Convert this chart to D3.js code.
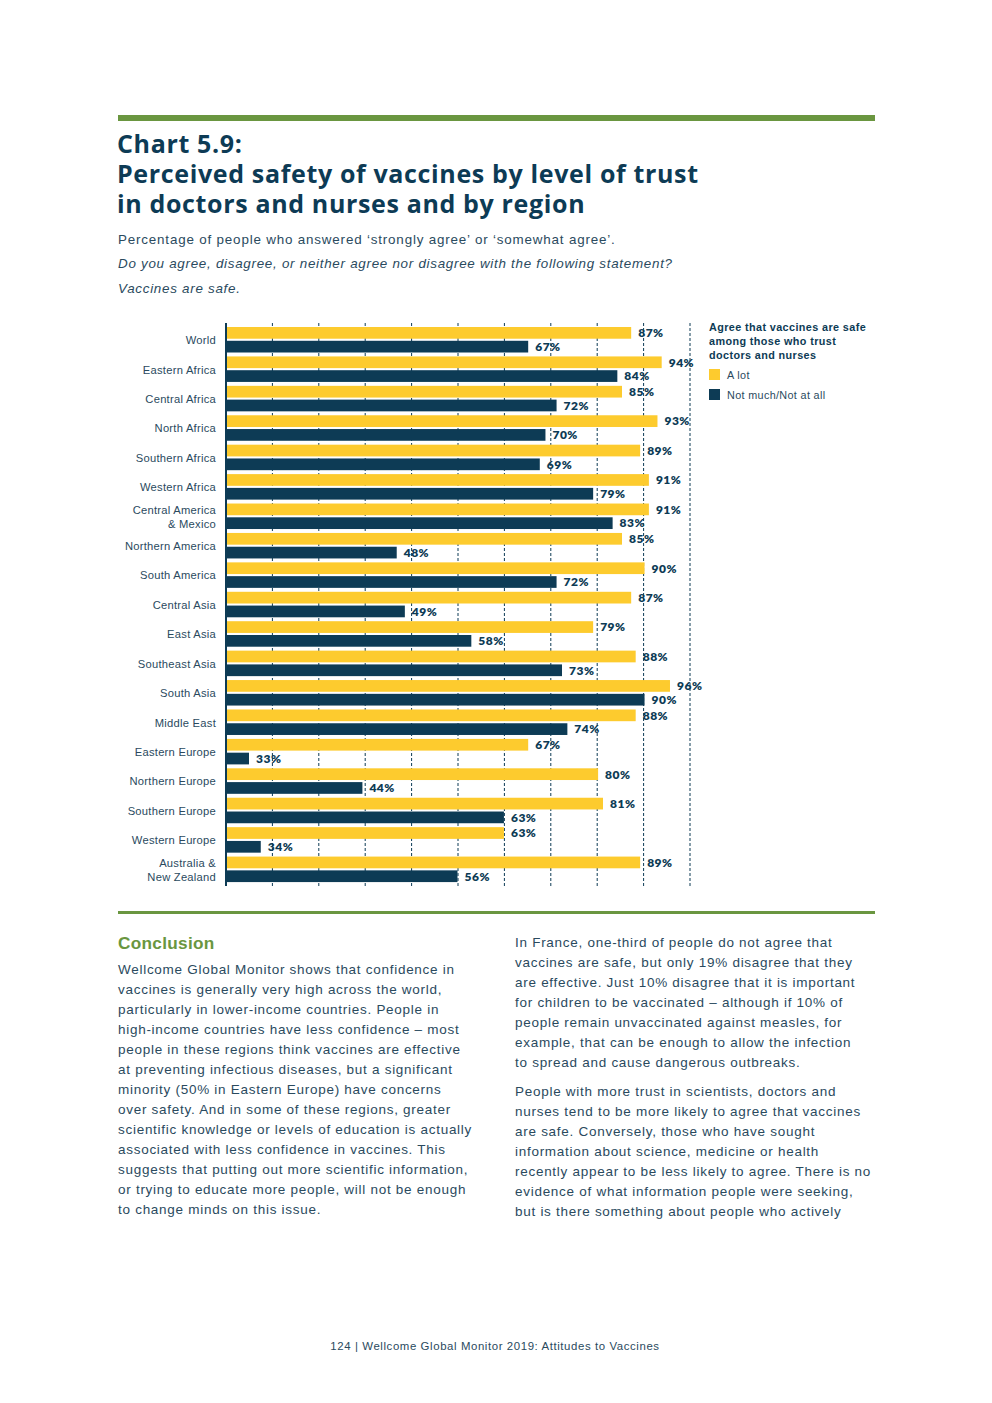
<!DOCTYPE html>
<html>
<head>
<meta charset="utf-8">
<script src="https://cdn.jsdelivr.net/npm/d3@7"></script>
<style>
  body { margin: 0; background: #fff; }
  text { font-family: "Liberation Sans", Arial, sans-serif; }
</style>
</head>
<body>
<div id="chart"></div>
<script>
const width = 992, height = 1403;

// data
const regions = ["World", "Eastern Africa", "Central Africa", "North Africa", "Southern Africa",
  "Western Africa", "Central America\n& Mexico", "Northern America", "South America", "Central Asia",
  "East Asia", "Southeast Asia", "South Asia", "Middle East", "Eastern Europe", "Northern Europe",
  "Southern Europe", "Western Europe", "Australia &\nNew Zealand"];
const aLot = [87, 94, 85, 93, 89, 91, 91, 85, 90, 87, 79, 88, 96, 88, 67, 80, 81, 63, 89];
const notMuch = [67, 84, 72, 70, 69, 79, 83, 48, 72, 49, 58, 73, 90, 74, 33, 44, 63, 34, 56];
const seriesNames = ["A lot", "Not much/Not at all"];
const gridTicks = [10, 20, 30, 40, 50, 60, 70, 80, 90, 100];

const titleLines = ["Chart 5.9:", "Perceived safety of vaccines by level of trust", "in doctors and nurses and by region"];
const legendTitle = ["Agree that vaccines are safe", "among those who trust", "doctors and nurses"];

const leftCol = [
  "Wellcome Global Monitor shows that confidence in",
  "vaccines is generally very high across the world,",
  "particularly in lower-income countries. People in",
  "high-income countries have less confidence \u2013 most",
  "people in these regions think vaccines are effective",
  "at preventing infectious diseases, but a significant",
  "minority (50% in Eastern Europe) have concerns",
  "over safety. And in some of these regions, greater",
  "scientific knowledge or levels of education is actually",
  "associated with less confidence in vaccines. This",
  "suggests that putting out more scientific information,",
  "or trying to educate more people, will not be enough",
  "to change minds on this issue."];
const rightCol1 = [
  "In France, one-third of people do not agree that",
  "vaccines are safe, but only 19% disagree that they",
  "are effective. Just 10% disagree that it is important",
  "for children to be vaccinated \u2013 although if 10% of",
  "people remain unvaccinated against measles, for",
  "example, that can be enough to allow the infection",
  "to spread and cause dangerous outbreaks."];
const rightCol2 = [
  "People with more trust in scientists, doctors and",
  "nurses tend to be more likely to agree that vaccines",
  "are safe. Conversely, those who have sought",
  "information about science, medicine or health",
  "recently appear to be less likely to agree. There is no",
  "evidence of what information people were seeking,",
  "but is there something about people who actively"];

const navy = "#0d3b55", yellow = "#fdcb2e", green = "#6a9640", textCol = "#2a4a5e";

const svg = d3.select("#chart")
  .append("svg")
  .attr("width", width)
  .attr("height", height)
  .attr("viewBox", [0, 0, width, height]);

// top rule + title
svg.append("rect").attr("x", 118).attr("y", 115).attr("width", 757).attr("height", 6).attr("fill", green);

const title = svg.append("g").selectAll("text")
  .data(titleLines)
  .join("text")
  .attr("x", 117)
  .attr("y", (d, i) => 153 + i * 30)
  .attr("fill", navy)
  .style("font-family", "'Open Sans', sans-serif")
  .style("font-weight", 700)
  .style("font-size", "25px")
  .text(d => d);

// the original title face is wider: fit line 2 to ~581px
const line2 = title.filter((d, i) => i === 1).node();
const ls = (581 - line2.getComputedTextLength()) / (titleLines[1].length - 1);
title.style("letter-spacing", ls + "px");

const sub = [
  { t: "Percentage of people who answered \u2018strongly agree\u2019 or \u2018somewhat agree\u2019.", y: 244, it: false },
  { t: "Do you agree, disagree, or neither agree nor disagree with the following statement?", y: 268, it: true },
  { t: "Vaccines are safe.", y: 293, it: true }];
svg.append("g").selectAll("text")
  .data(sub)
  .join("text")
  .attr("x", 118).attr("y", d => d.y)
  .attr("fill", textCol)
  .style("font-size", "13.4px")
  .style("font-style", d => d.it ? "italic" : "normal")
  .style("letter-spacing", d => d.it ? "0.72px" : "0.82px")
  .text(d => d.t);

// chart
const data = regions.map((r, i) => ({ region: r, values: [aLot[i], notMuch[i]] }));

const y0 = d3.scaleBand().domain(regions).range([325.5, 884.5]);
const y1 = d3.scaleBand().domain(seriesNames).range([1.5, 27]).paddingInner(0.15);

// bars are drawn on a log scale in the original
const x = d3.scaleLog().domain([31.13, 101]).range([226, 690]);
const grid = d3.scaleLinear().domain([0, 100]).range([226, 690]);
const color = d3.scaleOrdinal().domain(seriesNames).range([yellow, navy]);

svg.append("g")
  .selectAll("line")
  .data(gridTicks)
  .join("line")
  .attr("x1", d => grid(d)).attr("x2", d => grid(d))
  .attr("y1", 323).attr("y2", 886)
  .attr("stroke", navy)
  .attr("stroke-width", 1)
  .attr("stroke-dasharray", "3,2");

const rows = svg.append("g")
  .selectAll("g")
  .data(data)
  .join("g")
  .attr("transform", d => `translate(0,${y0(d.region)})`);

rows.selectAll("rect")
  .data(d => d.values.map((v, j) => ({ key: seriesNames[j], v })))
  .join("rect")
  .attr("x", x.range()[0])
  .attr("y", d => y1(d.key))
  .attr("width", d => x(d.v) - x.range()[0])
  .attr("height", y1.bandwidth())
  .attr("fill", d => color(d.key));

rows.selectAll("text.val")
  .data(d => d.values.map((v, j) => ({ key: seriesNames[j], v })))
  .join("text")
  .attr("class", "val")
  .attr("x", d => x(d.v) + 7)
  .attr("y", d => y1(d.key) + y1.bandwidth() / 2)
  .attr("dy", "0.36em")
  .attr("fill", navy)
  .style("font-family", "Lato, sans-serif")
  .style("font-weight", 800)
  .style("font-size", "12px")
  .style("letter-spacing", "0.5px")
  .text(d => d.v + "%");

// region labels
rows.each(function (d) {
  const lines = d.region.split("\n");
  const t = d3.select(this).append("text")
    .attr("text-anchor", "end")
    .attr("fill", textCol)
    .style("font-size", "11.2px")
    .style("letter-spacing", "0.25px");
  lines.forEach((l, k) => {
    t.append("tspan")
      .attr("x", 216)
      .attr("y", y0.bandwidth() / 2 + (k - (lines.length - 1) / 2) * 14)
      .attr("dy", "0.35em")
      .text(l);
  });
});

// axis line
svg.append("line")
  .attr("x1", grid(0)).attr("x2", grid(0))
  .attr("y1", 323).attr("y2", 886)
  .attr("stroke", navy).attr("stroke-width", 2);

// legend
const legend = svg.append("g").attr("transform", "translate(709,0)");
legend.selectAll("text.lt")
  .data(legendTitle)
  .join("text")
  .attr("class", "lt")
  .attr("x", 0)
  .attr("y", (d, i) => 331 + i * 14)
  .attr("fill", navy)
  .style("font-size", "10.8px")
  .style("font-weight", "bold")
  .style("letter-spacing", "0.4px")
  .text(d => d);
const items = legend.selectAll("g.item")
  .data(seriesNames)
  .join("g")
  .attr("class", "item")
  .attr("transform", (d, i) => `translate(0,${369 + i * 20})`);
items.append("rect").attr("width", 11).attr("height", 11).attr("fill", d => color(d));
items.append("text").attr("x", 18).attr("y", 9.5)
  .attr("fill", textCol).style("font-size", "10.8px").style("letter-spacing", "0.35px")
  .text(d => d);

// separator + conclusion
svg.append("rect").attr("x", 118).attr("y", 911).attr("width", 757).attr("height", 3).attr("fill", green);

svg.append("text").attr("x", 118).attr("y", 949)
  .attr("fill", green).style("font-size", "17.2px").style("font-weight", "bold")
  .style("letter-spacing", "0.3px")
  .text("Conclusion");

function para(lines, x0, yStart) {
  svg.append("g").selectAll("text")
    .data(lines)
    .join("text")
    .attr("x", x0)
    .attr("y", (d, i) => yStart + i * 20)
    .attr("fill", textCol)
    .style("font-size", "13.5px")
    .style("letter-spacing", "0.72px")
    .text(d => d);
}
para(leftCol, 118, 974);
para(rightCol1, 515, 947);
para(rightCol2, 515, 1096);

// footer
svg.append("text").attr("x", 495).attr("y", 1350)
  .attr("text-anchor", "middle")
  .attr("fill", textCol).style("font-size", "11.4px").style("letter-spacing", "0.6px")
  .text("124  |  Wellcome Global Monitor 2019: Attitudes to Vaccines");
</script>
</body>
</html>
